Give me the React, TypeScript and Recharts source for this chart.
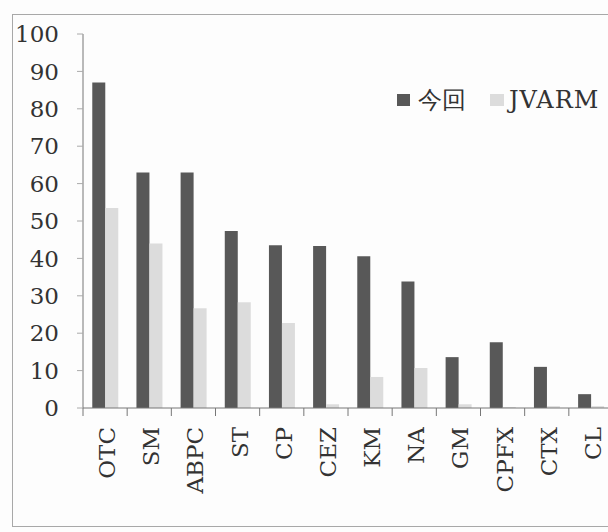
import { Bar, BarChart, XAxis, YAxis } from 'recharts';

const categories = ['OTC', 'SM', 'ABPC', 'ST', 'CP', 'CEZ', 'KM', 'NA', 'GM', 'CPFX', 'CTX', 'CL'];
const konkai = [87, 63, 63, 47.3, 43.5, 43.3, 40.6, 33.8, 13.6, 17.6, 11, 3.7];
const jvarm = [53.5, 44, 26.7, 28.3, 22.7, 1, 8.3, 10.7, 1, 0.3, 0.5, 0.5];
const yTicks = [0, 10, 20, 30, 40, 50, 60, 70, 80, 90, 100];
const seriesNames = ['今回', 'JVARM'];

const DARK = '#585858';
const LIGHT = '#dcdcdc';
const FONT = '"DejaVu Serif", "Liberation Serif", serif';

const CHART_W = 640;
const Y_AXIS_W = 83;
const RIGHT = 27;
const BAND = (CHART_W - Y_AXIS_W - RIGHT) / categories.length;

const data = categories.map((name, i) => ({ name, konkai: konkai[i], jvarm: jvarm[i] }));

function XTick({ x, y, payload }: any) {
  return (
    <g>
      <line x1={x - BAND / 2} y1={y - 8} x2={x - BAND / 2} y2={y} stroke="#777" />
      <text
        x={0}
        y={0}
        transform={`translate(${x + 10},${y + 11}) rotate(-90)`}
        textAnchor="end"
        fontFamily={FONT}
        fontSize={23}
        fill="#333"
      >
        {payload.value}
      </text>
    </g>
  );
}

export default function App() {
  return (
    <div
      style={{
        position: 'absolute',
        left: 0,
        top: 0,
        width: 608,
        height: 532,
        overflow: 'hidden',
        background: '#fdfdfd',
      }}
    >
      <div
        style={{
          position: 'absolute',
          left: 12,
          top: 14,
          width: 620,
          height: 511,
          border: '1px solid #a8a8a8',
        }}
      />
      <BarChart
        width={CHART_W}
        height={532}
        data={data}
        margin={{ top: 34, right: RIGHT, left: 0, bottom: 0 }}
        barGap={0}
        barCategoryGap="21%"
        style={{ position: 'absolute', left: 0, top: 0 }}
      >
        <XAxis
          dataKey="name"
          interval={0}
          height={124}
          tickLine={false}
          axisLine={{ stroke: '#777' }}
          tick={<XTick />}
        />
        <YAxis
          width={Y_AXIS_W}
          domain={[0, 100]}
          ticks={yTicks}
          interval={0}
          tickSize={6}
          tickMargin={18}
          axisLine={{ stroke: '#777' }}
          tickLine={{ stroke: '#aaa' }}
          tick={{ fontFamily: FONT, fontSize: 23, fill: '#333' }}
        />
        <Bar dataKey="konkai" name={seriesNames[0]} fill={DARK} isAnimationActive={false} />
        <Bar dataKey="jvarm" name={seriesNames[1]} fill={LIGHT} isAnimationActive={false} />
      </BarChart>
      <div
        style={{
          position: 'absolute',
          left: 397,
          top: 84,
          fontFamily: FONT,
          fontSize: 24,
          color: '#333',
          whiteSpace: 'nowrap',
          display: 'flex',
          alignItems: 'center',
        }}
      >
        <span style={{ width: 13, height: 12, background: DARK, display: 'inline-block', marginRight: 8 }} />
        <span style={{ marginRight: 24 }}>{seriesNames[0]}</span>
        <span style={{ width: 14, height: 12, background: LIGHT, display: 'inline-block', marginRight: 5 }} />
        <span style={{ letterSpacing: 1 }}>{seriesNames[1]}</span>
      </div>
    </div>
  );
}
